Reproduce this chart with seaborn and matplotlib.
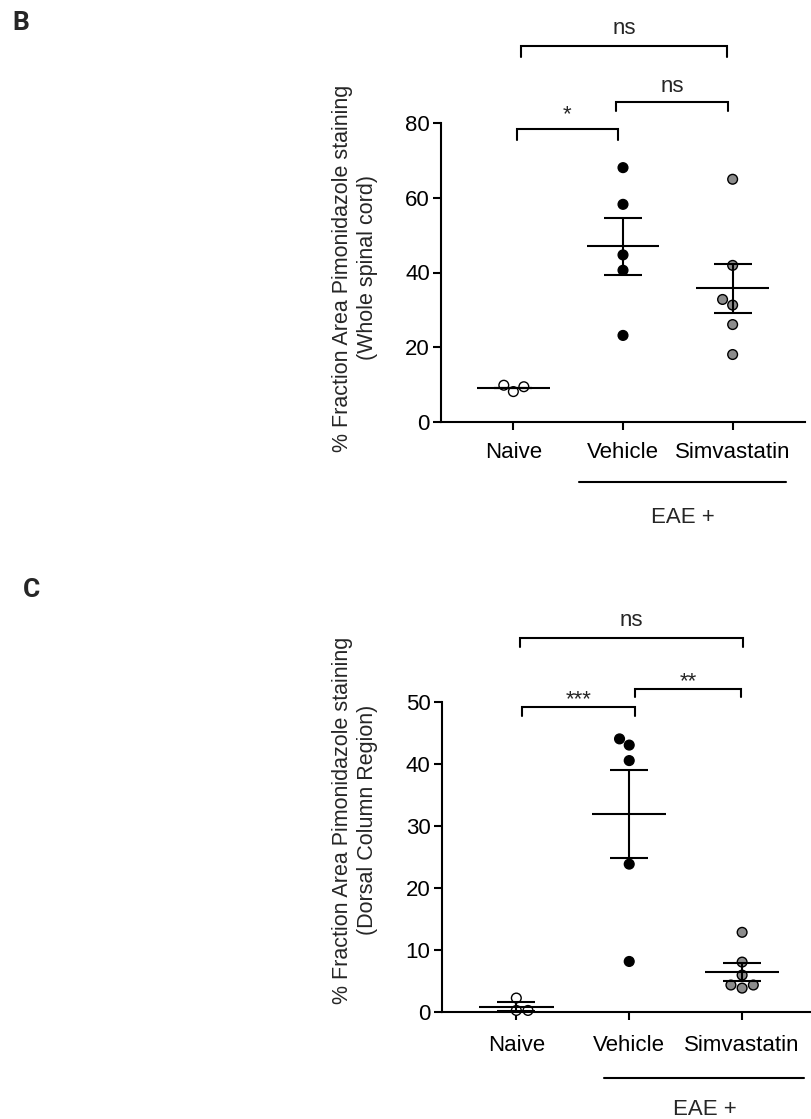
import numpy as np
import pandas as pd
import matplotlib
matplotlib.use("Agg")
import matplotlib.pyplot as plt
import matplotlib.transforms as mtransforms
import seaborn as sns

# ---------------- data ----------------
groups = ["Naive", "Vehicle", "Simvastatin"]

b_naive = [9.9, 8.2, 9.5]
b_vehicle = [68.0, 58.2, 44.7, 40.6, 23.2]
b_simva = [64.9, 41.9, 32.8, 31.3, 26.1, 18.1]
b_mean = [9.25, 47.0, 35.8]
b_sem = [0.0, 7.65, 6.6]
b_yticks = [0, 20, 40, 60, 80]

c_naive = [2.3, 0.3, 0.3]
c_vehicle = [44.1, 43.1, 40.6, 23.9, 8.2]
c_simva = [12.9, 8.1, 6.0, 4.4, 3.9, 4.4]
c_mean = [0.9, 32.0, 6.55]
c_sem = [0.7, 7.05, 1.45]
c_yticks = [0, 10, 20, 30, 40, 50]

b_ylabel = "% Fraction Area Pimonidazole staining\n(Whole spinal cord)"
c_ylabel = "% Fraction Area Pimonidazole staining\n(Dorsal Column Region)"
group_note = "EAE +"

# significance comparisons: (group a, group b, label)
b_sig = [("Naive", "Vehicle", "*"), ("Vehicle", "Simvastatin", "ns"), ("Naive", "Simvastatin", "ns")]
c_sig = [("Naive", "Vehicle", "***"), ("Vehicle", "Simvastatin", "**"), ("Naive", "Simvastatin", "ns")]

# ---------------- style ----------------
sns.set_style("ticks")
plt.rcParams["font.family"] = ["Liberation Sans", "DejaVu Sans"]

palette = {"Naive": "white", "Vehicle": "black", "Simvastatin": "#8c8c8c"}
FS = 16

W, H = 812, 1119
fig = plt.figure(figsize=(W / 100, H / 100), dpi=100)


def fx(px):
    return px / W


def fy(py):
    return 1 - py / H


def make_df(a, b, c):
    vals = list(a) + list(b) + list(c)
    labs = [groups[0]] * len(a) + [groups[1]] * len(b) + [groups[2]] * len(c)
    return pd.DataFrame({"group": labs, "value": vals})


def draw_panel(ax, df, means, sems, yticks, xlim, sig_layout, eae_layout, tick_pad):
    sns.swarmplot(data=df, x="group", y="value", hue="group", order=groups,
                  palette=palette, edgecolor="black", linewidth=1.0, size=7.0,
                  legend=False, ax=ax, zorder=2)
    for coll in ax.collections:
        coll.set_clip_on(False)
    xs = np.arange(len(groups))
    means = np.asarray(means)
    sems = np.asarray(sems)
    ax.hlines(means, xs - 0.33, xs + 0.33, color="black", lw=1.5, zorder=4)
    ax.errorbar(xs, means, yerr=sems, fmt="none", ecolor="black",
                elinewidth=1.5, capsize=13.4, capthick=1.5, zorder=4)
    ax.set_xlim(*xlim)
    ax.set_ylim(yticks[0], yticks[-1])
    ax.set_yticks(yticks)
    ax.set_yticklabels([str(t) for t in yticks], fontsize=FS)
    ax.set_xticks(xs)
    ax.set_xticklabels(groups, fontsize=FS)
    ax.set_xlabel("")
    ax.set_ylabel("")
    for s in ["top", "right"]:
        ax.spines[s].set_visible(False)
    for s in ["left", "bottom"]:
        ax.spines[s].set_linewidth(1.5)
        ax.spines[s].set_color("black")
    ax.tick_params(axis="both", width=1.5, length=6, color="black", labelcolor="black")
    ax.tick_params(axis="y", pad=2)
    ax.tick_params(axis="x", pad=tick_pad)

    # significance brackets (positions in data units)
    for (ga, gb, lab), (x1, x2, ytop, ydrop, ytxt) in zip(sig_layout[0], sig_layout[1]):
        ax.plot([x1, x1, x2, x2], [ydrop, ytop, ytop, ydrop], color="black",
                lw=1.5, clip_on=False, solid_joinstyle="miter")
        ax.text((x1 + x2) / 2, ytxt, lab, ha="center", va="baseline",
                fontsize=FS, clip_on=False)

    # EAE + group line
    trans = mtransforms.blended_transform_factory(ax.transData, ax.transAxes)
    lx1, lx2, ly, tx, ty = eae_layout
    ax.plot([lx1, lx2], [ly, ly], color="black", lw=1.5, transform=trans, clip_on=False)
    ax.text(tx, ty, group_note, ha="center", va="baseline", fontsize=FS,
            transform=trans, clip_on=False)


# ---------------- panel B ----------------
axB = fig.add_axes([fx(441), fy(422.3), fx(805 - 441), 299.6 / H])
dfB = make_df(b_naive, b_vehicle, b_simva)
b_layout = [
    (0.03, 0.952, 78.4, 75.4, 80.6),
    (0.935, 1.958, 85.4, 83.1, 88.3),
    (0.068, 1.95, 100.5, 97.6, 103.6),
]
draw_panel(axB, dfB, b_mean, b_sem, b_yticks, (-0.66, 2.66),
           (b_sig, b_layout), (0.603, 2.488, -0.2003, 1.55, -0.336), tick_pad=8)

# ---------------- panel C ----------------
axC = fig.add_axes([fx(441.7), fy(1012.3), fx(812 - 441.7), 310 / H])
dfC = make_df(c_naive, c_vehicle, c_simva)
c_layout = [
    (0.048, 1.051, 49.2, 47.8, 49.6),
    (1.051, 1.99, 52.1, 50.9, 52.5),
    (0.033, 2.005, 60.4, 58.9, 62.3),
]
draw_panel(axC, dfC, c_mean, c_sem, c_yticks, (-0.661, 2.619),
           (c_sig, c_layout), (0.779, 2.548, -0.211, 1.67, -0.331), tick_pad=10)

# ---------------- labels ----------------
fig.text(fx(355), fy(268), b_ylabel, rotation=90, ha="center", va="center",
         multialignment="center", fontsize=15.5, linespacing=1.3)
fig.text(fx(355), fy(820), c_ylabel, rotation=90, ha="center", va="center",
         multialignment="center", fontsize=15.5, linespacing=1.3)

fig.text(fx(12), fy(30), "B", fontsize=19, fontweight="bold",
         family=["Roboto", "DejaVu Sans"], va="baseline", ha="left")
fig.text(fx(23), fy(596.7), "C", fontsize=19, fontweight="bold",
         family=["Roboto", "DejaVu Sans"], va="baseline", ha="left")

fig.savefig("out.png", dpi=100, facecolor="white")
